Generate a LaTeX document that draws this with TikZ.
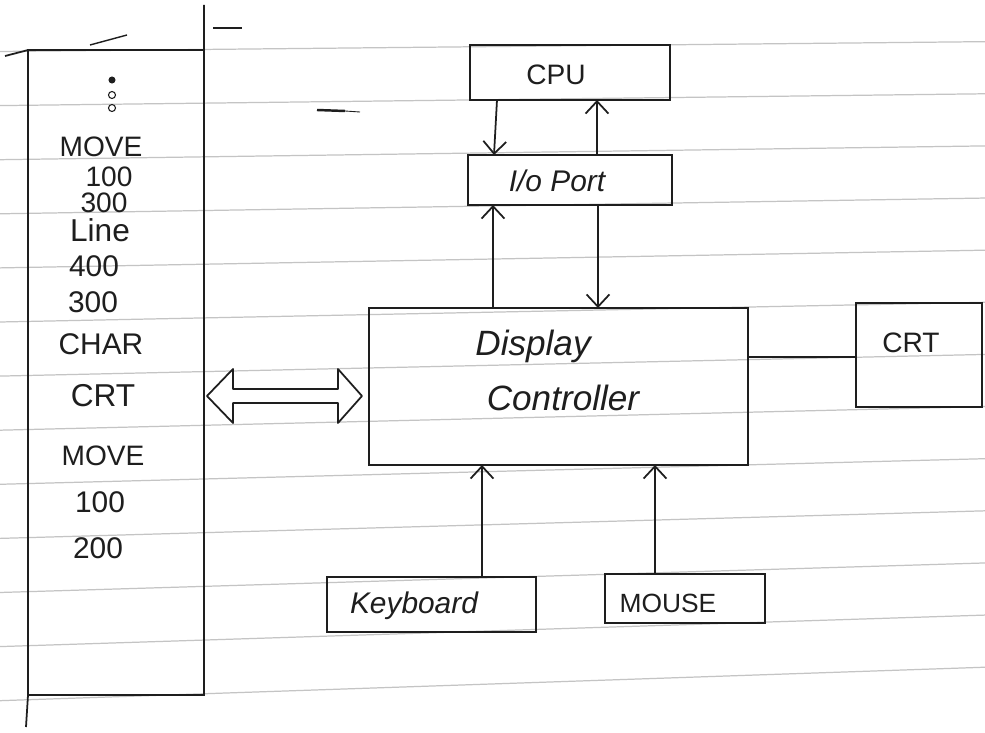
\documentclass[tikz,border=0pt]{standalone}
\usepackage{fontspec}
\setmainfont{Liberation Sans}
\usetikzlibrary{arrows.meta}
\definecolor{ink}{HTML}{1E1E1E}
\definecolor{rulecol}{HTML}{C4C4C4}
\begin{document}
\begin{tikzpicture}[x=0.02cm,y=-0.02cm,
  box/.style={draw=ink, line width=1pt, inner sep=0pt, outer sep=0pt},
  txt/.style={text=ink, inner sep=0pt, font=\fontsize{16}{18}\selectfont},
  bigtxt/.style={text=ink, inner sep=0pt, font=\fontsize{20}{22}\selectfont\itshape},
  arr/.style={draw=ink, line width=1pt, -{Straight Barb[length=7pt,width=13pt]}},
  ruleline/.style={draw=rulecol, line width=0.7pt},
  pen/.style={draw=ink, line width=1pt}]
\fill[white] (0,0) rectangle (985,733);
\useasboundingbox (0,0) rectangle (985,733);
% ruled paper lines
\foreach \i in {0,...,12} {
  \pgfmathsetmacro{\ym}{46+53*\i}
  \pgfmathsetmacro{\k}{0.01+0.002*\i}
  \draw[ruleline] (0,{\ym+550*\k}) -- (985,{\ym-435*\k});
}
% display-file column
\node[box, minimum width=3.52cm, minimum height=12.9cm] (col) at (116,372.5) {};
\draw[pen] (col.north west) -- (5,56);
\draw[pen] (col.south west) -- (26,727);
\draw[pen] (col.north east) -- (204,5);
\fill[ink] (112,80) circle (2pt);
\draw[ink, line width=0.6pt] (112,95) circle (2pt);
\draw[ink, line width=0.6pt] (112,108) circle (2pt);
\node[txt] (c1) at (101,147) {MOVE};
\node[txt] (c2) at (109,177) {100};
\node[txt] (c3) at (104,203) {300};
\node[txt, font=\fontsize{18}{20}\selectfont] (c4) at (100,230) {Line};
\node[txt, font=\fontsize{17}{19}\selectfont] (c5) at (94,266) {400};
\node[txt, font=\fontsize{17}{19}\selectfont] (c6) at (93,302) {300};
\node[txt, font=\fontsize{17}{19}\selectfont] (c7) at (101,344) {CHAR};
\node[txt, font=\fontsize{18}{20}\selectfont] (c8) at (103,396) {CRT};
\node[txt] (c9) at (103,456) {MOVE};
\node[txt, font=\fontsize{17}{19}\selectfont] (c10) at (100,502) {100};
\node[txt, font=\fontsize{17}{19}\selectfont] (c11) at (98,548) {200};
% stray pen marks
\draw[ink, line width=0.8pt] (90,45) -- (127,35);
\draw[ink, line width=0.8pt] (213,28) -- (242,28);
\draw[ink, line width=1.4pt] (317,110) -- (345,111);
\draw[ink, line width=0.5pt] (345,111) -- (360,112);
% boxes
\node[box, minimum width=4cm, minimum height=1.1cm] (cpu) at (570,72.5) {};
\node[txt] (cpul) at (556,75) {CPU};
\node[box, minimum width=4.08cm, minimum height=1cm] (io) at (570,180) {};
\node[txt, font=\fontsize{17}{19}\selectfont\itshape] (iol) at (557,181) {I/o Port};
\node[box, minimum width=7.58cm, minimum height=3.14cm] (disp) at (558.5,386.5) {};
\node[bigtxt] (displ1) at (533,346) {Display};
\node[bigtxt] (displ2) at (563,398) {Controller};
\node[box, minimum width=2.52cm, minimum height=2.08cm] (crt) at (919,355) {};
\node[txt] (crtl) at (911,343) {CRT};
\node[box, minimum width=4.18cm, minimum height=1.1cm] (kbd) at (431.5,604.5) {};
\node[txt, font=\fontsize{17}{19}\selectfont\itshape] (kbdl) at (414,606) {Keyboard};
\node[box, minimum width=3.2cm, minimum height=0.98cm] (mouse) at (685,598.5) {};
\node[txt, font=\fontsize{15}{17}\selectfont] (mousel) at (668,603) {MOUSE};
% connectors
\draw[arr] (cpu.south -| 497,0) -- (io.north -| 494,0);
\draw[arr] (io.north -| 597,0) -- (cpu.south -| 597,0);
\draw[arr] (disp.north -| 493,0) -- (io.south -| 493,0);
\draw[arr] (io.south -| 598,0) -- (disp.north -| 598,0);
\draw[pen] (disp.east |- 0,357) -- (crt.west |- 0,357);
\draw[arr] (kbd.north -| 482,0) -- (disp.south -| 482,0);
\draw[arr] (mouse.north -| 655,0) -- (disp.south -| 655,0);
% hollow double arrow between display file and controller
\draw[pen, line join=round] (col.east |- 0,396) ++(3,0) -- ++(26,-27) -- ++(0,20) -- ++(105,0)
  -- ++(0,-20) -- ++(24,27) -- ++(-24,27) -- ++(0,-20) -- ++(-105,0) -- ++(0,20) -- cycle;
\end{tikzpicture}
\end{document}
